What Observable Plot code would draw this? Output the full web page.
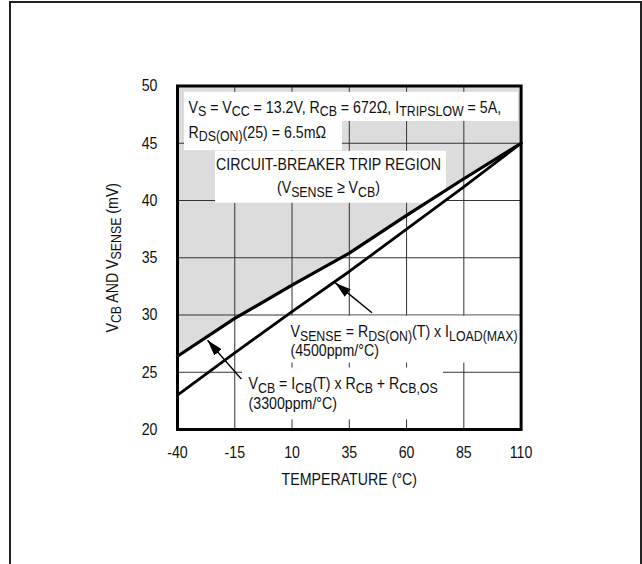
<!DOCTYPE html>
<html>
<head>
<meta charset="utf-8">
<script src="https://cdn.jsdelivr.net/npm/d3@7"></script>
<script src="https://cdn.jsdelivr.net/npm/@observablehq/plot@0.6"></script>
<style>
  html, body { margin: 0; padding: 0; background: white; overflow: hidden; }
  #wrap { position: relative; width: 642px; height: 564px; }
  #border { position: absolute; left: 9px; top: 1px; width: 629px; height: 600px; border: 2px solid #222; pointer-events: none; }
  #chart { position: absolute; left: 0; top: 0; }
</style>
</head>
<body>
<div id="wrap"><div id="chart"></div><div id="border"></div></div>
<script>
// Temperature (°C) and the two threshold curves (mV)
const temps  = [-40, -15, 10, 35, 60, 85, 110];
const vcb    = [26.4, 29.7, 32.6, 35.4, 38.7, 41.9, 45.0];
const vsense = [23.0, 26.7, 30.3, 33.8, 37.5, 41.2, 45.0];

const xTicks = [-40, -15, 10, 35, 60, 85, 110];
const yTicks = [20, 25, 30, 35, 40, 45, 50];

const xLabel = "TEMPERATURE (°C)";
const yLabel = "V_{CB} AND V_{SENSE} (mV)";

// annotation text lines (data coordinates)
const noteText = [
  "V_{S} = V_{CC} = 13.2V, R_{CB} = 672Ω, I_{TRIPSLOW} = 5A,",
  "R_{DS(ON)}(25) = 6.5mΩ",
  "CIRCUIT-BREAKER TRIP REGION",
  "(V_{SENSE} ≥ V_{CB})",
  "V_{SENSE} = R_{DS(ON)}(T) x I_{LOAD(MAX)}",
  "(4500ppm/°C)",
  "V_{CB} = I_{CB}(T) x R_{CB} + R_{CB,OS}",
  "(3300ppm/°C)"
];
const noteX = [-35.2, -35.2, 25.9, 25.9, 9.3, 9.3, -9.0, -9.0];
const noteY = [48.16, 45.95, 43.1, 41.12, 28.55, 26.89, 24.0, 22.27];
const noteAnchor = ["start", "start", "middle", "middle", "start", "start", "start", "start"];

// white label boxes behind annotations (data coordinates)
const boxX1 = [-36.9, -36.9, -23.4, 8.0, -11.6];
const boxX2 = [108.8, 32.0, 77.4, 108.8, 76.1];
const boxY1 = [46.9, 44.35, 39.76, 25.8, 20.84];
const boxY2 = [49.45, 46.9, 44.3, 29.9, 25.37];

// arrows: tail -> tip
const arrX1 = [-12.1, 44.9];
const arrY1 = [24.4, 30.2];
const arrX2 = [-26.9, 28.9];
const arrY2 = [27.8, 32.8];

const curve = temps.map((t, i) => ({t, vcb: vcb[i], vsense: vsense[i]}));
const notes = noteText.map((text, i) => ({text, x: noteX[i], y: noteY[i], anchor: noteAnchor[i]}));
const boxes = boxX1.map((x1, i) => ({x1, x2: boxX2[i], y1: boxY1[i], y2: boxY2[i]}));
const arrows = arrX1.map((x1, i) => ({x1, y1: arrY1[i], x2: arrX2[i], y2: arrY2[i]}));

const font = "'Liberation Sans', Arial, sans-serif";

const chart = Plot.plot({
  width: 642,
  height: 564,
  marginLeft: 177,
  marginRight: 121.4,
  marginTop: 85.5,
  marginBottom: 135,
  style: {fontFamily: font, fontSize: "17px", color: "#111", background: "transparent"},
  x: {domain: [-40, 110]},
  y: {domain: [20, 50]},
  marks: [
    Plot.areaY(curve, {x: "t", y1: "vcb", y2: 50, fill: "#dcdcdc"}),
    Plot.gridX(xTicks, {stroke: "#333", strokeOpacity: 1, strokeWidth: 1}),
    Plot.gridY(yTicks, {stroke: "#333", strokeOpacity: 1, strokeWidth: 1}),
    Plot.rect(boxes, {x1: "x1", x2: "x2", y1: "y1", y2: "y2", fill: "white"}),
    Plot.line(curve, {x: "t", y: "vsense", stroke: "black", strokeWidth: 2.8}),
    Plot.line(curve, {x: "t", y: "vcb", stroke: "black", strokeWidth: 3.2}),
    Plot.frame({stroke: "black", strokeWidth: 3}),
    Plot.axisX({ticks: xTicks, tickSize: 0, tickPadding: 16, label: null, tickFormat: d => String(d), fontSize: 17}),
    Plot.axisY({ticks: yTicks, tickSize: 0, tickPadding: 20, label: null, fontSize: 17}),
    Plot.text([xLabel], {frameAnchor: "bottom", lineAnchor: "middle", textAnchor: "middle", dy: 50, fontSize: 17, fill: "#111"}),
    Plot.text([yLabel], {frameAnchor: "left", lineAnchor: "middle", textAnchor: "middle", dx: -65, rotate: -90, fontSize: 17, fill: "#111"}),
    Plot.text(notes.filter(d => d.anchor === "start"), {x: "x", y: "y", text: "text", textAnchor: "start", fontSize: 17, fill: "#111"}),
    Plot.text(notes.filter(d => d.anchor === "middle"), {x: "x", y: "y", text: "text", textAnchor: "middle", fontSize: 17, fill: "#111"}),
    Plot.link(arrows, {x1: "x1", y1: "y1", x2: "x2", y2: "y2", stroke: "black", strokeWidth: 1.5, markerEnd: "arrow"})
  ]
});

// subscripts: turn "_{...}" into lowered, smaller tspans
const NS = "http://www.w3.org/2000/svg";
function applySubs(root) {
  const els = Array.from(root.querySelectorAll("text, tspan")).filter(el => el.children.length === 0 && el.textContent.includes("_{"));
  for (const el of els) {
    const s = el.textContent;
    el.textContent = "";
    const re = /_\{([^}]*)\}/g;
    let last = 0, m, lowered = false;
    while ((m = re.exec(s))) {
      if (m.index > last) {
        const t = document.createElementNS(NS, "tspan");
        if (lowered) { t.setAttribute("dy", "-3.5"); lowered = false; }
        t.textContent = s.slice(last, m.index);
        el.appendChild(t);
      }
      const sub = document.createElementNS(NS, "tspan");
      sub.setAttribute("font-size", "0.87em");
      if (!lowered) sub.setAttribute("dy", "3.5");
      sub.textContent = m[1];
      el.appendChild(sub);
      lowered = true;
      last = re.lastIndex;
    }
    if (last < s.length) {
      const t = document.createElementNS(NS, "tspan");
      if (lowered) t.setAttribute("dy", "-3.5");
      t.textContent = s.slice(last);
      el.appendChild(t);
    }
  }
}
applySubs(chart);

// filled triangular arrowheads
chart.querySelectorAll("marker").forEach(mk => {
  mk.setAttribute("viewBox", "-16 -5 16 10");
  mk.setAttribute("markerUnits", "userSpaceOnUse");
  mk.setAttribute("markerWidth", "16");
  mk.setAttribute("markerHeight", "10");
  mk.setAttribute("refX", "0");
  mk.setAttribute("refY", "0");
  mk.innerHTML = "";
  const p = document.createElementNS(NS, "path");
  p.setAttribute("d", "M-16,-4.8L0,0L-16,4.8Z");
  p.setAttribute("fill", "black");
  p.setAttribute("stroke", "none");
  mk.appendChild(p);
});

// emulate a narrow (condensed) typeface: scale each text horizontally about its anchor
const squeeze = 0.835;
chart.querySelectorAll("text").forEach(el => {
  const ax = parseFloat(el.getAttribute("x")) || 0;
  const prev = el.getAttribute("transform") || "";
  el.setAttribute("transform", `${prev} translate(${ax},0) scale(${squeeze},1) translate(${-ax},0)`.trim());
});

document.getElementById("chart").appendChild(chart);
</script>
</body>
</html>
